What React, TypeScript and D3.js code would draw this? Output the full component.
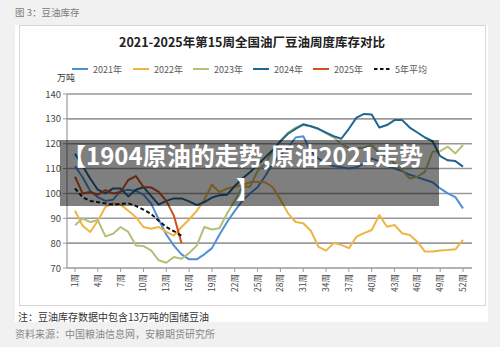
import React from "react";
import * as d3 from "d3";

const weeks: number[] = Array.from({ length: 52 }, (_, i) => i + 1);
const tickWeeks: number[] = [1, 4, 7, 10, 13, 16, 19, 22, 25, 28, 31, 34, 37, 40, 43, 46, 49, 52];
const yTicks: number[] = [70, 80, 90, 100, 110, 120, 130, 140];

const s2021: number[] = [111, 106.5, 101, 98.5, 97, 97.5, 101, 101.5, 101, 99.5, 96, 89.5, 83.5, 79, 75.5, 73.5, 73.5, 75.5, 78, 83.5, 88.5, 93, 97, 100, 102.5, 107, 112, 115.5, 118.5, 122.5, 123, 117, 114, 112, 111, 110.5, 110, 110.5, 112, 114, 113, 111, 110, 109, 107.5, 106.5, 105.5, 104.5, 102, 100, 98.5, 94];
const s2022: number[] = [93, 87, 84.5, 89, 94.5, 96, 95.5, 93, 90.5, 86.5, 85.8, 86.5, 84.5, 83, 86.5, 89.5, 93, 97.5, 103.5, 100.5, 102, 102.7, 103.4, 104.5, 104.7, 104.5, 102.5, 97.5, 92, 88.5, 88, 85, 78.5, 77, 80, 79.3, 78, 82.6, 84, 85.3, 91.3, 86.6, 87.3, 84, 83.3, 80.6, 76.6, 76.6, 77, 77.2, 77.5, 81.3];
const s2023: number[] = [87.2, 89.9, 88.5, 89.2, 82.7, 83.8, 86.5, 84.5, 79.1, 78.8, 77.1, 73.1, 72.1, 74.4, 73.7, 76, 79, 86.5, 85.5, 86, 92, 97, 102.7, 102.7, 109, 112, 117, 121, 124.5, 126.5, 127.5, 127, 126, 124.2, 122.5, 120, 118.1, 118.1, 118.5, 119.5, 116.1, 114.8, 112, 109.4, 106, 106.7, 108.7, 116.8, 117, 118.8, 116.1, 119.5];
const s2024: number[] = [116, 111, 106, 101.5, 100, 102, 102, 98.8, 101.5, 102.5, 99, 95.5, 97, 98, 98, 96.8, 95.3, 96.5, 98.3, 99.3, 99.5, 103, 106, 108.5, 111.5, 114.5, 117.5, 121, 124, 126, 127.8, 127, 126, 124.5, 123, 122, 126, 130.5, 132, 131.8, 126.5, 127.5, 129.5, 129.5, 126.5, 124.5, 122.5, 121, 115, 113.3, 113, 110.8];
const s2025: number[] = [106.7, 100, 100.6, 99.5, 101.3, 100, 100.6, 105.4, 107, 102.6, 102.4, 100.6, 97, 91, 80];
const sAvg: number[] = [102, 98.5, 97, 96.5, 96, 95.5, 95.8, 96, 95, 93.5, 91.8, 89, 86.5, 84.8, 83];

const seriesNames: string[] = ["2021年", "2022年", "2023年", "2024年", "2025年", "5年平均"];
const seriesColors: string[] = ["#4f8fd8", "#f0b444", "#b4bf78", "#1f6690", "#d0501f", "#111111"];

const FONT = "'Noto Sans CJK SC', 'Noto Sans', sans-serif";

export default function App() {
  const x = d3.scaleLinear().domain([1, 52]).range([75, 463]);
  const y = d3.scaleLinear().domain([70, 140]).range([268, 94]);
  const line = d3
    .line<number>()
    .x((_, i) => x(weeks[i]))
    .y((d) => y(d));

  const allSeries = [s2021, s2022, s2023, s2024, s2025, sAvg];
  const legendX = [72, 133, 193, 253, 313, 374];

  return (
    <svg
      width={500}
      height={347}
      style={{ position: "absolute", left: 0, top: 0, background: "#f1f1f1" }}
      fontFamily={FONT}
    >
      <rect x={0} y={0} width={500} height={347} fill="#f1f1f1" />
      <text x={15} y={16} fontSize={9.5} fill="#7a7a7a">
        图 3：豆油库存
      </text>
      <rect x={15} y={25} width={473} height={297} fill="#ffffff" />
      <rect x={19.5} y={25.5} width={466} height={280} fill="#ffffff" stroke="#d6d6d6" strokeWidth={1} />

      <text x={252} y={47} textAnchor="middle" fontSize={12.5} fontWeight="bold" fill="#222">
        2021-2025年第15周全国油厂豆油周度库存对比
      </text>

      {seriesNames.map((n, i) => (
        <g key={n}>
          <line
            x1={legendX[i]}
            x2={legendX[i] + 16}
            y1={69}
            y2={69}
            stroke={seriesColors[i]}
            strokeWidth={2}
            strokeDasharray={i === 5 ? "3.5,2.5" : undefined}
          />
          <text x={legendX[i] + 21} y={72.5} fontSize={9} fill="#595959">
            {n}
          </text>
        </g>
      ))}

      <text x={57} y={81} fontSize={9} fill="#333">
        万吨
      </text>

      {yTicks.map((t) => (
        <g key={t}>
          <line x1={67} x2={472} y1={y(t)} y2={y(t)} stroke="#9a9a9a" strokeWidth={1.6} />
          <line x1={63} x2={67} y1={y(t)} y2={y(t)} stroke="#9a9a9a" strokeWidth={1} />
          <text x={61} y={y(t) + 3.5} textAnchor="end" fontSize={9.5} fill="#444">
            {t}
          </text>
        </g>
      ))}
      <line x1={67} x2={67} y1={y(140)} y2={y(70)} stroke="#9a9a9a" strokeWidth={1.2} />

      {tickWeeks.map((w) => (
        <g key={w}>
          <line x1={x(w)} x2={x(w)} y1={268} y2={272} stroke="#9a9a9a" strokeWidth={1} />
          <text
            transform={`translate(${x(w)},274) rotate(-90)`}
            textAnchor="end"
            dy="0.35em"
            fontSize={8.5}
            fill="#444"
          >
            {w}周
          </text>
        </g>
      ))}

      {allSeries.map((s, i) => (
        <path
          key={i}
          d={line(s) || ""}
          fill="none"
          stroke={seriesColors[i]}
          strokeWidth={2}
          strokeLinejoin="round"
          strokeDasharray={i === 5 ? "4,2.5" : undefined}
        />
      ))}

      <rect x={60} y={140} width={379} height={66} fill="#000" fillOpacity={0.5} />
      <text x={62} y={165} fontSize={24} fontWeight="bold" fill="#ffffff">
        【1904原油的走势,原油2021走势
      </text>
      <text x={236} y={198} fontSize={24} fontWeight="bold" fill="#ffffff">
        】
      </text>

      <text x={18} y={321} fontSize={10} fill="#333">
        注：豆油库存数据中包含13万吨的国储豆油
      </text>
      <text x={15} y={338} fontSize={10} fill="#888">
        资料来源：中国粮油信息网，安粮期货研究所
      </text>
    </svg>
  );
}
